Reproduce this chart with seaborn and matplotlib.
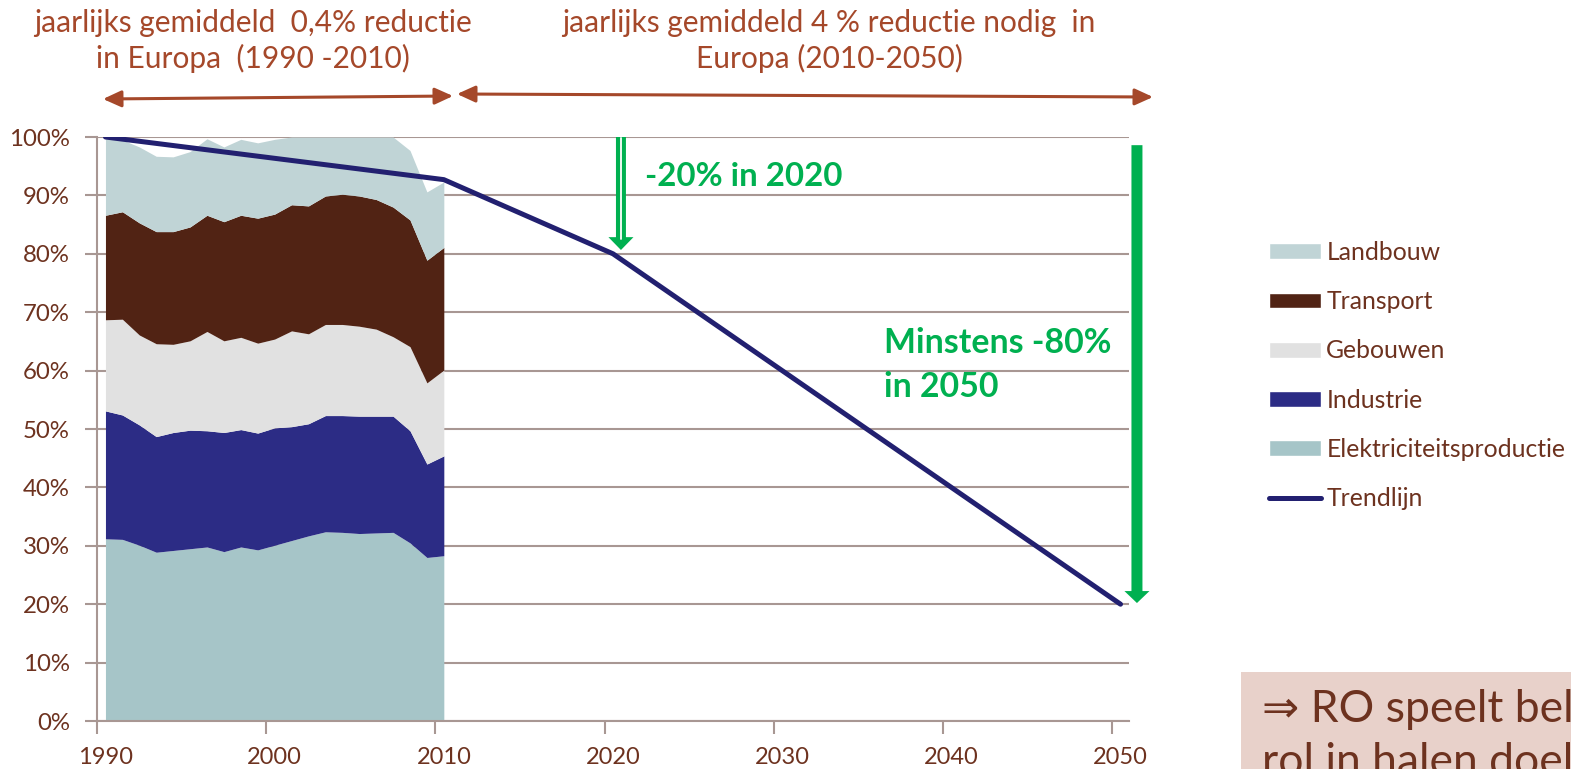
import matplotlib.pyplot as plt
import seaborn as sns
import numpy as np
from matplotlib.patches import Patch, Rectangle
from matplotlib.lines import Line2D

# emissions per sector, % of 1990 total
years = list(range(1990, 2011))
elektriciteit = [31.2, 31.1, 30.1, 28.9, 29.2, 29.5, 29.8, 29.0, 29.8, 29.3, 30.1,
                 30.9, 31.7, 32.4, 32.3, 32.1, 32.2, 32.3, 30.5, 28.0, 28.3]
industrie = [21.9, 21.3, 20.6, 19.8, 20.2, 20.3, 19.9, 20.4, 20.1, 20.0, 20.1,
             19.5, 19.2, 19.9, 20.0, 20.1, 20.0, 19.9, 19.2, 16.0, 17.1]
gebouwen = [15.6, 16.4, 15.4, 15.9, 15.1, 15.3, 17.0, 15.7, 15.8, 15.4, 15.2,
            16.4, 15.4, 15.6, 15.6, 15.4, 14.9, 13.6, 14.4, 13.9, 14.7]
transport = [17.9, 18.4, 19.2, 19.2, 19.3, 19.5, 19.9, 20.4, 20.9, 21.4, 21.4,
             21.6, 21.9, 22.0, 22.3, 22.3, 22.2, 22.2, 21.7, 21.0, 21.0]
landbouw = [13.4, 12.3, 13.0, 12.9, 12.8, 12.9, 13.1, 12.8, 13.0, 12.9, 12.8,
            11.6, 11.8, 10.1, 9.8, 10.1, 10.7, 12.0, 11.9, 11.7, 11.2]

trend_years = [1990, 2010, 2020, 2050]
trend_values = [100, 92.7, 80, 20]

y_ticks = list(range(0, 101, 10))
x_ticks = list(range(1990, 2051, 10))

land_c = '#c0d4d6'
trans_c = '#512314'
geb_c = '#e1e1e1'
ind_c = '#2c2c85'
elek_c = '#a6c5c8'
trend_c = '#222070'
grid_c = '#a89793'
green = '#00b050'
top_brown = '#a5482a'
label_brown = '#6d321f'
box_c = '#e8d1ca'

sns.set_style('white')
plt.rcParams['font.family'] = ['Lato', 'DejaVu Sans']

W, H = 1571, 769
fig = plt.figure(figsize=(W / 100, H / 100), dpi=100)
ax = fig.add_axes([97 / W, (H - 721) / H, (1129 - 97) / W, (721 - 137) / H])

ax.stackplot(years, elektriciteit, industrie, gebouwen, transport, landbouw,
             colors=[elek_c, ind_c, geb_c, trans_c, land_c], linewidth=0)
sns.lineplot(x=trend_years, y=trend_values, ax=ax, color=trend_c, linewidth=3.6,
             solid_capstyle='round', zorder=3)

ax.set_xlim(1989.5, 2050.5)
ax.set_ylim(0, 100)
ax.set_yticks(y_ticks)
ax.set_yticklabels([f'{v}%' for v in y_ticks])
ax.set_xticks(x_ticks)
ax.set_xticks([x - 0.5 for x in x_ticks], minor=True)
ax.set_axisbelow(True)
ax.yaxis.grid(True, color=grid_c, linewidth=1.5)
ax.xaxis.grid(False)
for side in ['top', 'right']:
    ax.spines[side].set_visible(False)
for side in ['left', 'bottom']:
    ax.spines[side].set_color(grid_c)
    ax.spines[side].set_linewidth(1.5)
ax.tick_params(axis='y', length=9, width=1.5, color=grid_c, labelcolor=label_brown,
               labelsize=17.3, pad=10.5, left=True)
ax.tick_params(axis='x', which='major', length=0, labelcolor=label_brown, labelsize=17, pad=18.5)
ax.tick_params(axis='x', which='minor', length=9, width=1.5, color=grid_c, bottom=True)

# green arrows
ax.arrow(2020.47, 100, 0, -19.35, width=0.59, head_width=1.48, head_length=2.2,
         length_includes_head=True, color=green, linewidth=0, clip_on=False, zorder=4)
ax.plot([2020.47, 2020.47], [99.8, 82.5], color='white', linewidth=1.3, zorder=5)
ax.arrow(2050.97, 98.6, 0, -78.4, width=0.65, head_width=1.48, head_length=2.05,
         length_includes_head=True, color=green, linewidth=0, clip_on=False, zorder=4)
ax.text(2021.9, 93.3, '-20% in 2020', color=green, fontsize=23.8, fontweight='bold',
        va='center', ha='left')
ax.text(2036.0, 61.0, 'Minstens -80%\nin 2050', color=green, fontsize=24.4,
        fontweight='bold', va='center', ha='left', linespacing=1.45)

# top annotations
fig.text(253 / W, 1 - 41 / H, 'jaarlijks gemiddeld  0,4% reductie\nin Europa  (1990 -2010)',
         color=top_brown, fontsize=21.5, ha='center', va='center', linespacing=1.3)
fig.text(829 / W, 1 - 41 / H, 'jaarlijks gemiddeld 4 % reductie nodig  in\nEuropa (2010-2050)',
         color=top_brown, fontsize=21.5, ha='center', va='center', linespacing=1.3)
arrow_style = dict(arrowstyle='<|-|>,head_length=1.1,head_width=0.5', color=top_brown,
                   lw=2.2, shrinkA=0, shrinkB=0, mutation_scale=10)
ax.annotate('', xy=(453, H - 96), xytext=(103, H - 99), xycoords='figure pixels',
            textcoords='figure pixels', arrowprops=arrow_style)
ax.annotate('', xy=(1153, H - 97), xytext=(457, H - 94), xycoords='figure pixels',
            textcoords='figure pixels', arrowprops=arrow_style)

# legend
handles = [Patch(facecolor=land_c), Patch(facecolor=trans_c), Patch(facecolor=geb_c),
           Patch(facecolor=ind_c), Patch(facecolor=elek_c),
           Line2D([], [], color=trend_c, linewidth=3.6, solid_capstyle='round')]
labels = ['Landbouw', 'Transport', 'Gebouwen', 'Industrie', 'Elektriciteitsproductie', 'Trendlijn']
leg = fig.legend(handles, labels, loc='upper left', bbox_to_anchor=(1269 / W, 1 - 241 / H),
                 frameon=False, fontsize=17.8, handlelength=2.1, handleheight=0.61,
                 handletextpad=0.22, labelspacing=1.06, borderpad=0, borderaxespad=0)
for t in leg.get_texts():
    t.set_color(label_brown)

# conclusion box at bottom right (cut off by the page edge, as in the source slide)
fig.patches.append(Rectangle((1241 / W, 0), (W - 1241) / W, (H - 672) / H,
                             transform=fig.transFigure, facecolor=box_c, edgecolor='none'))
fig.text(1262 / W, 1 - 689 / H, '\u21d2 RO speelt belangrijke\nrol in halen doelen',
         color=label_brown, fontsize=32, ha='left', va='top', linespacing=1.35)

fig.savefig('out.png', dpi=100)
